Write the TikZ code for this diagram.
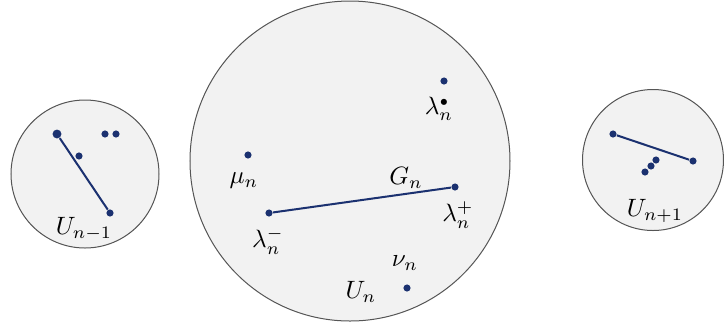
\documentclass[tikz,border=0pt]{standalone}
\usepackage{tikz}
\usetikzlibrary{positioning}
\definecolor{ptblue}{HTML}{1B3170}
\definecolor{nbhd}{HTML}{F2F2F2}
\definecolor{rim}{HTML}{555555}

\begin{document}
\begin{tikzpicture}[x=0.014cm, y=-0.014cm,
  every node/.style={inner sep=0pt},
  region/.style={fill=nbhd, draw=rim, line width=0.4pt},
  pt/.style={circle, fill=ptblue, minimum size=0.1cm},
  bigpt/.style={circle, fill=ptblue, minimum size=0.125cm},
  geo/.style={ptblue, line width=0.8pt},
  lbl/.style={font=\normalsize}
]
  \useasboundingbox (0,0) rectangle (724,327);

  % neighbourhoods
  \draw[region] (85,174) circle (74);
  \draw[region] (350,161) circle (160);
  \draw[region] (653,160) circle (70.5);

  % left region
  \node[bigpt] (a1) at (57,134) {};
  \node[pt] (a2) at (110,213) {};
  \node[pt] (a3) at (79,156) {};
  \node[pt] (a4) at (105,134) {};
  \node[pt] (a5) at (116,134) {};
  \draw[geo] (a1) -- (a2);
  \node[lbl] (ul) at (84,229) {$U_{n-1}$};

  % central region
  \node[pt] (ldot) at (444,81) {};
  \node[lbl] (ldotl) at (439,109) {$\lambda_n^{\scriptscriptstyle\bullet}$};
  \node[pt] (mu) at (248,155) {};
  \node[lbl] (mul) at (244,181) {$\mu_n$};
  \node[pt] (lm) at (269,213) {};
  \node[lbl] (lml) at (268,241) {$\lambda_n^-$};
  \node[pt] (lp) at (455,187) {};
  \node[lbl] (lpl) at (458,215) {$\lambda_n^+$};
  \draw[geo] (lm) -- (lp);
  \node[lbl] (gl) at (406,178) {$G_n$};
  \node[pt] (nu) at (407,288) {};
  \node[lbl] (nul) at (405,263) {$\nu_n$};
  \node[lbl] (ucl) at (361,292) {$U_n$};

  % right region
  \node[pt] (b1) at (613,134) {};
  \node[pt] (b2) at (693,161) {};
  \draw[geo] (b1) -- (b2);
  \node[pt] (b3) at (645,172) {};
  \node[pt] (b4) at (651,166) {};
  \node[pt] (b5) at (656,160) {};
  \node[lbl] (ur) at (655,211) {$U_{n+1}$};
\end{tikzpicture}
\end{document}
